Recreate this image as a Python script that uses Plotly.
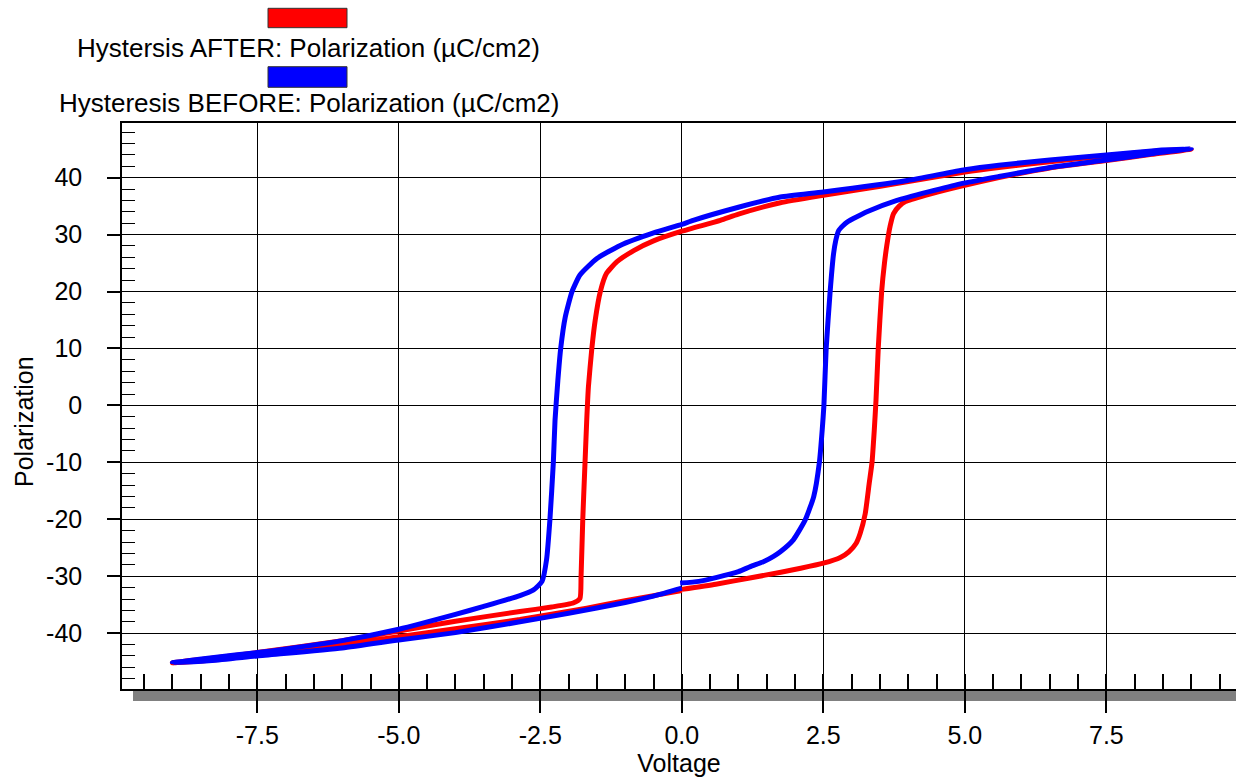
import plotly.graph_objects as go

# ---- data ----
after_v = [0.0, 0.6, 1.2, 1.75, 2.1, 2.5, 2.8, 2.95, 3.08, 3.15, 3.24, 3.31, 3.36, 3.40, 3.43, 3.47, 3.53, 3.58, 3.62, 3.68, 3.74, 3.84, 3.95, 4.3, 4.92, 5.6, 6.5, 7.5, 8.3, 9.0,
           8.3, 7.5, 6.5, 5.6, 5.0, 4.0, 3.0, 2.5, 1.74, 1.0, 0.68, 0.0, -0.5, -0.85, -1.15, -1.33, -1.44, -1.53, -1.59, -1.65, -1.68, -1.71, -1.75, -1.78, -1.80, -1.92, -2.3, -2.86, -4.0, -5.0, -6.0, -7.5, -8.3, -9.0,
           -8.3, -7.5, -6.0, -5.0, -4.0, -2.86, -1.68, -1.0, -0.5, 0.0]
after_p = [-32.3, -31.4, -30.3, -29.3, -28.6, -27.7, -26.7, -25.7, -24.2, -22.5, -19.0, -13.7, -10.0, -4.3, 0.9, 10.0, 20.0, 25.0, 28.0, 31.5, 33.7, 35.0, 35.8, 36.9, 38.5, 40.0, 41.7, 43.0, 44.1, 45.0,
           44.6, 43.8, 42.8, 41.8, 41.0, 39.3, 37.7, 36.9, 35.6, 33.6, 32.5, 30.6, 28.9, 27.2, 25.2, 23.2, 20.0, 15.0, 10.0, 3.3, -2.6, -10.0, -20.0, -30.0, -33.9, -34.7, -35.4, -36.2, -37.9, -39.6, -41.3, -43.4, -44.4, -45.2,
           -44.7, -43.8, -42.0, -40.6, -39.2, -37.6, -35.6, -34.3, -33.4, -32.5]

before_v = [-0.03, 0.3, 0.62, 1.0, 1.21, 1.45, 1.62, 1.74, 1.97, 2.18, 2.33, 2.43, 2.48, 2.51, 2.55, 2.62, 2.68, 2.72, 2.77, 2.85, 2.92, 3.27, 3.80, 4.92, 5.6, 6.5, 7.5, 8.3, 9.0,
            8.3, 7.5, 6.5, 5.6, 5.0, 3.98, 2.5, 1.74, 1.0, 0.2, 0.0, -0.5, -1.09, -1.5, -1.8, -1.94, -2.06, -2.14, -2.19, -2.24, -2.27, -2.33, -2.39, -2.47, -2.62, -2.86, -3.5, -4.0, -5.0, -6.0, -7.5, -8.3, -9.0,
            -8.3, -7.5, -6.0, -5.0, -4.0, -2.86, -2.0, -1.0, -0.5, 0.0]
before_p = [-31.2, -30.9, -30.2, -29.2, -28.3, -27.4, -26.5, -25.7, -23.6, -20.1, -16.0, -10.0, -4.3, 0.0, 10.0, 20.0, 26.6, 29.0, 30.7, 31.6, 32.2, 34.0, 36.0, 38.9, 40.2, 41.8, 43.1, 44.2, 45.1,
            44.7, 44.0, 43.1, 42.2, 41.4, 39.5, 37.5, 36.6, 34.8, 32.5, 31.8, 30.3, 28.1, 25.8, 22.9, 20.0, 15.5, 10.0, 4.4, -2.6, -10.0, -20.0, -27.1, -30.9, -32.4, -33.4, -35.3, -36.7, -39.3, -41.3, -43.4, -44.3, -45.2,
            -44.8, -44.0, -42.6, -41.2, -39.9, -38.0, -36.5, -34.6, -33.5, -32.1]

x_tick_vals = [-7.5, -5.0, -2.5, 0.0, 2.5, 5.0, 7.5]
x_tick_text = ["-7.5", "-5.0", "-2.5", "0.0", "2.5", "5.0", "7.5"]
y_tick_vals = [-40, -30, -20, -10, 0, 10, 20, 30, 40]
y_tick_text = ["-40", "-30", "-20", "-10", "0", "10", "20", "30", "40"]

name_after = "Hystersis AFTER: Polarization (µC/cm2)"
name_before = "Hysteresis BEFORE: Polarization (µC/cm2)"
color_after = "#ff0000"
color_before = "#0000ff"
x_title = "Voltage"
y_title = "Polarization"

FONT = "Liberation Sans, Arial, sans-serif"
FS = 25

fig = go.Figure()
fig.add_trace(go.Scatter(x=after_v, y=after_p, mode="lines", name=name_after,
                         line=dict(color=color_after, width=5, shape="spline", smoothing=0.5),
                         showlegend=False))
fig.add_trace(go.Scatter(x=before_v, y=before_p, mode="lines", name=name_before,
                         line=dict(color=color_before, width=5, shape="spline", smoothing=0.5),
                         showlegend=False))

W, H = 1236, 777
ml, mr, mt, mb = 122, 0, 123, 88
pw = W - ml - mr
ph = H - mt - mb

def px(xp):
    return (xp - ml) / pw

def py(yp):
    return (H - mb - yp) / ph

# custom legend: swatches + labels
legend_items = [(name_after, color_after, 8.3, 27.7, 48.0), (name_before, color_before, 66.7, 87.3, 103.5)]
for label, col, y0, y1, ytxt in legend_items:
    fig.add_shape(type="rect", xref="paper", yref="paper",
                  x0=px(268), x1=px(347), y0=py(y1), y1=py(y0),
                  fillcolor=col, line=dict(color="#333333", width=1), layer="above")
    fig.add_annotation(text=label, xref="paper", yref="paper", x=px(308.5), y=py(ytxt),
                       xanchor="center", yanchor="middle", showarrow=False,
                       font=dict(family=FONT, size=26, color="black"))

# y axis title (placed precisely)
fig.add_annotation(text=y_title, xref="paper", yref="paper", x=px(24), y=py(422),
                   xanchor="center", yanchor="middle", textangle=-90, showarrow=False,
                   font=dict(family=FONT, size=FS, color="black"))

# gray band under x axis
fig.add_shape(type="rect", xref="paper", yref="paper", x0=px(133), x1=1.01,
              y0=py(701), y1=0, fillcolor="#808080", line=dict(width=0), layer="below")

fig.update_layout(
    width=W, height=H,
    margin=dict(l=ml, r=mr, t=mt, b=mb, pad=0),
    paper_bgcolor="white", plot_bgcolor="white",
    font=dict(family=FONT, size=FS, color="black"),
    showlegend=False,
)
fig.update_xaxes(
    range=[-9.89, 9.79], tickvals=x_tick_vals, ticktext=x_tick_text,
    showgrid=True, gridcolor="black", gridwidth=1, zeroline=False,
    showline=True, linecolor="black", linewidth=1.5, mirror=True,
    ticks="outside", ticklen=22, tickcolor="black", tickwidth=1.5,
    minor=dict(ticks="inside", dtick=0.5, ticklen=15, tickcolor="black", tickwidth=1.5, showgrid=False),
    tickfont=dict(family=FONT, size=FS), ticklabelstandoff=1,
    title=dict(text=x_title, font=dict(family=FONT, size=FS), standoff=4),
)
fig.update_yaxes(
    range=[-49.8, 49.6], tickvals=y_tick_vals, ticktext=y_tick_text,
    showgrid=True, gridcolor="black", gridwidth=1, zeroline=False,
    showline=True, linecolor="black", linewidth=1.5, mirror=False,
    ticks="outside", ticklen=13, tickcolor="black", tickwidth=1.5,
    minor=dict(ticks="inside", dtick=2, ticklen=13, tickcolor="black", tickwidth=1, showgrid=False),
    tickfont=dict(family=FONT, size=FS), ticklabelstandoff=20,
)

fig.write_html("out.html", config={"displayModeBar": False},
               post_script="document.body.style.margin='0px';")
